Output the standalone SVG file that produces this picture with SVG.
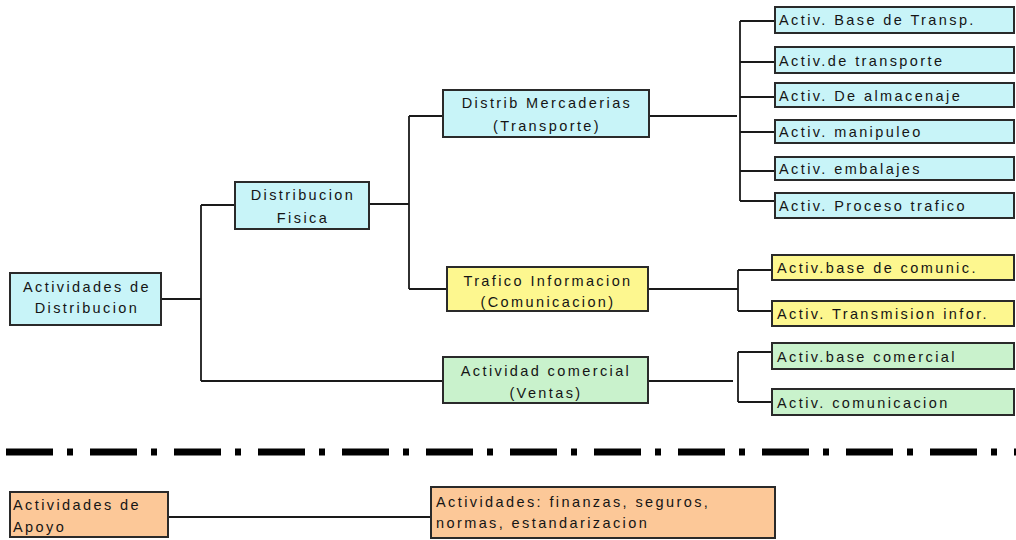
<svg xmlns="http://www.w3.org/2000/svg" width="1016" height="540" viewBox="0 0 1016 540">
<style>
.box{stroke:#2a2a2a;stroke-width:2}
.cy{fill:#c8f4f8}
.ye{fill:#fdf78f}
.gr{fill:#c9f2cc}
.or{fill:#fcc898}
text{font-family:"Liberation Sans",Arial,sans-serif;font-size:14.5px;letter-spacing:2.4px;fill:#151515}
.c{text-anchor:middle}
.con line{stroke:#1a1a1a;stroke-width:1.8;fill:none}
</style>
<rect width="1016" height="540" fill="#ffffff"/>
<g class="con">
<line x1="161" y1="299" x2="201" y2="299"/>
<line x1="201" y1="205" x2="201" y2="381"/>
<line x1="201" y1="205" x2="235" y2="205"/>
<line x1="201" y1="381" x2="443" y2="381"/>
<line x1="369" y1="204" x2="409" y2="204"/>
<line x1="409" y1="116" x2="409" y2="289"/>
<line x1="409" y1="116" x2="443" y2="116"/>
<line x1="409" y1="289" x2="447" y2="289"/>
<line x1="649" y1="116" x2="737" y2="116"/>
<line x1="740" y1="21" x2="740" y2="201"/>
<line x1="740" y1="21" x2="775" y2="21"/>
<line x1="740" y1="62" x2="775" y2="62"/>
<line x1="740" y1="97" x2="775" y2="97"/>
<line x1="740" y1="132" x2="775" y2="132"/>
<line x1="740" y1="171" x2="775" y2="171"/>
<line x1="740" y1="201" x2="775" y2="201"/>
<line x1="648" y1="289" x2="738" y2="289"/>
<line x1="738" y1="270" x2="738" y2="311"/>
<line x1="738" y1="270" x2="772" y2="270"/>
<line x1="738" y1="311" x2="772" y2="311"/>
<line x1="648" y1="381" x2="733" y2="381"/>
<line x1="738" y1="352" x2="738" y2="402"/>
<line x1="738" y1="352" x2="772" y2="352"/>
<line x1="738" y1="402" x2="772" y2="402"/>
<line x1="168" y1="517" x2="431" y2="517"/>
</g>
<line id="separator" x1="6" y1="452" x2="1016" y2="452" stroke="#000" stroke-width="7" stroke-dasharray="47 14 6 17"/>
<g id="n-distribucion">
<rect class="box cy" x="10" y="273" width="151" height="52"/>
<text class="c" x="87" y="292">Actividades de</text>
<text class="c" x="87" y="313">Distribucion</text>
</g>
<g id="n-fisica">
<rect class="box cy" x="235" y="182" width="134" height="47"/>
<text class="c" x="303" y="200">Distribucion</text>
<text class="c" x="303" y="223">Fisica</text>
</g>
<g id="n-mercaderias">
<rect class="box cy" x="443" y="90" width="206" height="47"/>
<text class="c" x="547" y="108">Distrib Mercaderias</text>
<text class="c" x="547" y="131">(Transporte)</text>
</g>
<g id="n-trafico">
<rect class="box ye" x="447" y="267" width="201" height="44"/>
<text class="c" x="548" y="286">Trafico Informacion</text>
<text class="c" x="548" y="307">(Comunicacion)</text>
</g>
<g id="n-comercial">
<rect class="box gr" x="443" y="357" width="205" height="46"/>
<text class="c" x="546" y="376">Actividad comercial</text>
<text class="c" x="546" y="398">(Ventas)</text>
</g>
<g id="l-base-transp"><rect class="box cy" x="775" y="7" width="239" height="26"/><text x="779" y="25">Activ. Base de Transp.</text></g>
<g id="l-transporte"><rect class="box cy" x="775" y="47" width="239" height="26"/><text x="779" y="66">Activ.de transporte</text></g>
<g id="l-almacenaje"><rect class="box cy" x="775" y="83" width="239" height="24"/><text x="779" y="101">Activ. De almacenaje</text></g>
<g id="l-manipuleo"><rect class="box cy" x="775" y="120" width="239" height="23"/><text x="779" y="137">Activ. manipuleo</text></g>
<g id="l-embalajes"><rect class="box cy" x="775" y="157" width="239" height="23"/><text x="779" y="174">Activ. embalajes</text></g>
<g id="l-proceso"><rect class="box cy" x="775" y="193" width="239" height="25"/><text x="779" y="211">Activ. Proceso trafico</text></g>
<g id="l-base-comunic"><rect class="box ye" x="772" y="255" width="242" height="25"/><text x="777" y="273">Activ.base de comunic.</text></g>
<g id="l-transmision"><rect class="box ye" x="772" y="301" width="242" height="25"/><text x="777" y="319">Activ. Transmision infor.</text></g>
<g id="l-base-comercial"><rect class="box gr" x="772" y="343" width="242" height="26"/><text x="777" y="362">Activ.base comercial</text></g>
<g id="l-comunicacion"><rect class="box gr" x="772" y="389" width="242" height="26"/><text x="777" y="408">Activ. comunicacion</text></g>
<g id="n-apoyo">
<rect class="box or" x="10" y="492" width="158" height="45"/>
<text x="13" y="510">Actividades de</text>
<text x="13" y="532">Apoyo</text>
</g>
<g id="n-finanzas">
<rect class="box or" x="431" y="487" width="344" height="51"/>
<text x="436" y="507">Actividades: finanzas, seguros,</text>
<text x="436" y="528">normas, estandarizacion</text>
</g>
</svg>
